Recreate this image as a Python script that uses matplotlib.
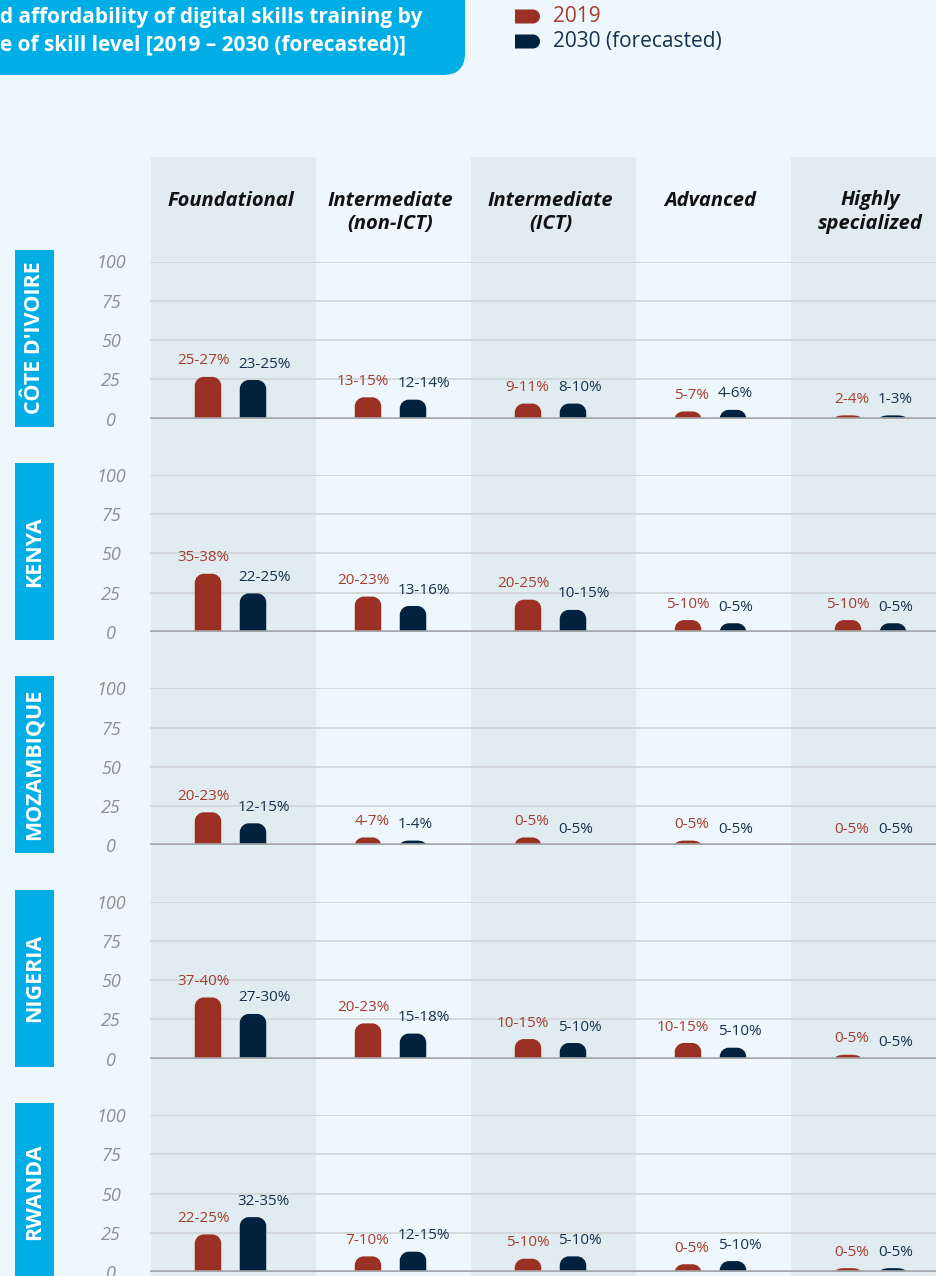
import numpy as np
import matplotlib.pyplot as plt
from matplotlib.path import Path
from matplotlib.patches import PathPatch, FancyBboxPatch, Rectangle

plt.rcParams['font.family'] = ['Open Sans', 'DejaVu Sans']

# ---- data ----
skill_levels = ['Foundational', 'Intermediate\n(non-ICT)', 'Intermediate\n(ICT)',
                'Advanced', 'Highly\nspecialized']
countries = ["CÔTE D'IVOIRE", 'KENYA', 'MOZAMBIQUE', 'NIGERIA', 'RWANDA']
series_names = ['2019', '2030 (forecasted)']

# bar heights (%), one row per country
values_2019 = [
    [26.5, 13.5, 9.5, 4.5, 2],
    [37, 22.5, 20.5, 7.5, 7.5],
    [21, 5, 5, 3, 0],
    [39, 22.5, 12.5, 10, 2.5],
    [24, 10, 8.5, 5, 2.5],
]
values_2030 = [
    [24.5, 12, 9.5, 5.5, 2],
    [24.5, 16.5, 14, 5.5, 5.5],
    [14, 3, 0, 0, 0],
    [28.5, 16, 10, 7, 0],
    [35, 13, 10, 7, 2.5],
]
labels_2019 = [
    ['25-27%', '13-15%', '9-11%', '5-7%', '2-4%'],
    ['35-38%', '20-23%', '20-25%', '5-10%', '5-10%'],
    ['20-23%', '4-7%', '0-5%', '0-5%', '0-5%'],
    ['37-40%', '20-23%', '10-15%', '10-15%', '0-5%'],
    ['22-25%', '7-10%', '5-10%', '0-5%', '0-5%'],
]
labels_2030 = [
    ['23-25%', '12-14%', '8-10%', '4-6%', '1-3%'],
    ['22-25%', '13-16%', '10-15%', '0-5%', '0-5%'],
    ['12-15%', '1-4%', '0-5%', '0-5%', '0-5%'],
    ['27-30%', '15-18%', '5-10%', '5-10%', '0-5%'],
    ['32-35%', '12-15%', '5-10%', '5-10%', '0-5%'],
]
yticks = [0, 25, 50, 75, 100]

# ---- style ----
BG = '#eef8fc'
SHADE = '#e1ecf0'
BLUE = '#00ade4'
RED = '#9a3124'
NAVY = '#00223f'
RED_TXT = '#a63c30'
NAVY_TXT = '#17314f'
GRID = '#d2d6d8'
BASE = '#a6a8aa'

W, H = 937, 1276
COL_PX = 160.0          # width of one skill column in pixels
X0_PX = 230.5           # centre of first column
PANEL_PX = 157.0        # 0..100 in pixels
ROW0_PX = 418.5         # baseline of first country
ROW_STEP = 213.4
BAR_W = 26.5 / COL_PX
OFFSET = 22.5 / COL_PX
R_PX = 9.0


def rounded_bar(ax, xc, h, color):
    """Bar with rounded top corners, drawn in data coordinates."""
    if h <= 0:
        return
    rx = R_PX / COL_PX
    ry = min(R_PX * 100 / PANEL_PX, h)
    xl, xr = xc - BAR_W / 2, xc + BAR_W / 2
    k = 0.55
    verts = [(xl, 0), (xl, h - ry),
             (xl, h - ry + k * ry), (xl + rx - k * rx, h), (xl + rx, h),
             (xr - rx, h),
             (xr - rx + k * rx, h), (xr, h - ry + k * ry), (xr, h - ry),
             (xr, 0), (xl, 0)]
    codes = [Path.MOVETO, Path.LINETO,
             Path.CURVE4, Path.CURVE4, Path.CURVE4,
             Path.LINETO,
             Path.CURVE4, Path.CURVE4, Path.CURVE4,
             Path.LINETO, Path.CLOSEPOLY]
    ax.add_patch(PathPatch(Path(verts, codes), facecolor=color,
                           edgecolor='none', zorder=2))


def legend_key(ax, x, y, w, h, color):
    """D-shaped legend key: square left side, rounded right side (pixel coords)."""
    r = h / 2
    k = 0.55
    verts = [(x, y), (x + w - r, y),
             (x + w - r + k * r, y), (x + w, y + r - k * r), (x + w, y + r),
             (x + w, y + r + k * r), (x + w - r + k * r, y + h), (x + w - r, y + h),
             (x, y + h), (x, y)]
    codes = [Path.MOVETO, Path.LINETO,
             Path.CURVE4, Path.CURVE4, Path.CURVE4,
             Path.CURVE4, Path.CURVE4, Path.CURVE4,
             Path.LINETO, Path.CLOSEPOLY]
    ax.add_patch(PathPatch(Path(verts, codes), facecolor=color, edgecolor='none'))


fig = plt.figure(figsize=(W / 100, H / 100), dpi=100)
fig.patch.set_facecolor(BG)

# background layer in pixel coordinates
bg = fig.add_axes([0, 0, 1, 1])
bg.set_xlim(0, W)
bg.set_ylim(H, 0)
bg.axis('off')

n_cols = len(skill_levels)
for i in range(n_cols):
    cx = X0_PX + COL_PX * i
    if i % 2 == 0:
        bg.add_patch(Rectangle((cx - 79.5, 157), 165, H - 157,
                               facecolor=SHADE, edgecolor='none'))
    bg.text(cx, 190.5, skill_levels[i], ha='center', va='top', fontsize=14.5,
            fontweight='bold', fontstyle='italic', color='#111111',
            linespacing=1.2)

# title box (cropped at the left edge)
bg.add_patch(FancyBboxPatch((-60, -60), 525, 135,
                            boxstyle='round,pad=0,rounding_size=22',
                            facecolor=BLUE, edgecolor='none'))
bg.text(0, 18, 'd affordability of digital skills training by', ha='left',
        va='center', fontsize=15, fontweight='bold', color='white')
bg.text(0, 45, 'e of skill level [2019 – 2030 (forecasted)]', ha='left',
        va='center', fontsize=15, fontweight='bold', color='white')

# legend
for j, (name, col, tcol) in enumerate([(series_names[0], RED, RED_TXT),
                                        (series_names[1], NAVY, NAVY_TXT)]):
    y = 9.5 + 25 * j
    legend_key(bg, 515, y, 25, 14, col)
    bg.text(553, y + 7, name, ha='left', va='center', fontsize=15, color=tcol)

# country panels
for k, country in enumerate(countries):
    y0 = ROW0_PX + ROW_STEP * k
    y100 = y0 - PANEL_PX

    bg.add_patch(Rectangle((15, y100 - 12), 39, PANEL_PX + 20,
                           facecolor=BLUE, edgecolor='none'))
    bg.text(34.5, y0 - PANEL_PX / 2 - 2, country, rotation=90, ha='center',
            va='center', fontsize=15.5, fontweight='bold', color='white')

    left = (X0_PX - COL_PX / 2) / W
    ax = fig.add_axes([left, 1 - y0 / H, COL_PX * n_cols / W, PANEL_PX / H])
    ax.set_facecolor('none')
    ax.set_xlim(-0.5, n_cols - 0.5)
    ax.set_ylim(0, 100)
    for s in ax.spines.values():
        s.set_visible(False)
    ax.set_xticks([])
    ax.set_yticks(yticks)
    ax.set_yticklabels([str(t) for t in yticks])
    ax.tick_params(axis='y', length=0, pad=28.5, labelsize=13,
                   labelcolor='#8e8e8e')
    for lab in ax.get_yticklabels():
        lab.set_horizontalalignment('center')
        lab.set_fontstyle('italic')
    ax.yaxis.grid(True, color=GRID, linewidth=1.3)
    ax.set_axisbelow(True)
    ax.axhline(0, color=BASE, linewidth=2.6, zorder=3)

    for i in range(n_cols):
        h1 = values_2019[k][i]
        h2 = values_2030[k][i]
        x1 = i - OFFSET
        x2 = i + OFFSET
        rounded_bar(ax, x1, h1, RED)
        rounded_bar(ax, x2, h2, NAVY)
        ax.annotate(labels_2019[k][i], xy=(x1 + BAR_W / 2, h1),
                    xytext=(5.8, 11.5), textcoords='offset points',
                    ha='right', va='center', fontsize=11, color=RED_TXT,
                    annotation_clip=False)
        ax.annotate(labels_2030[k][i], xy=(x2 - BAR_W / 2, h2),
                    xytext=(-1.4, 11.5), textcoords='offset points',
                    ha='left', va='center', fontsize=11, color=NAVY_TXT,
                    annotation_clip=False)

fig.savefig('out.png', dpi=100, facecolor=BG)
